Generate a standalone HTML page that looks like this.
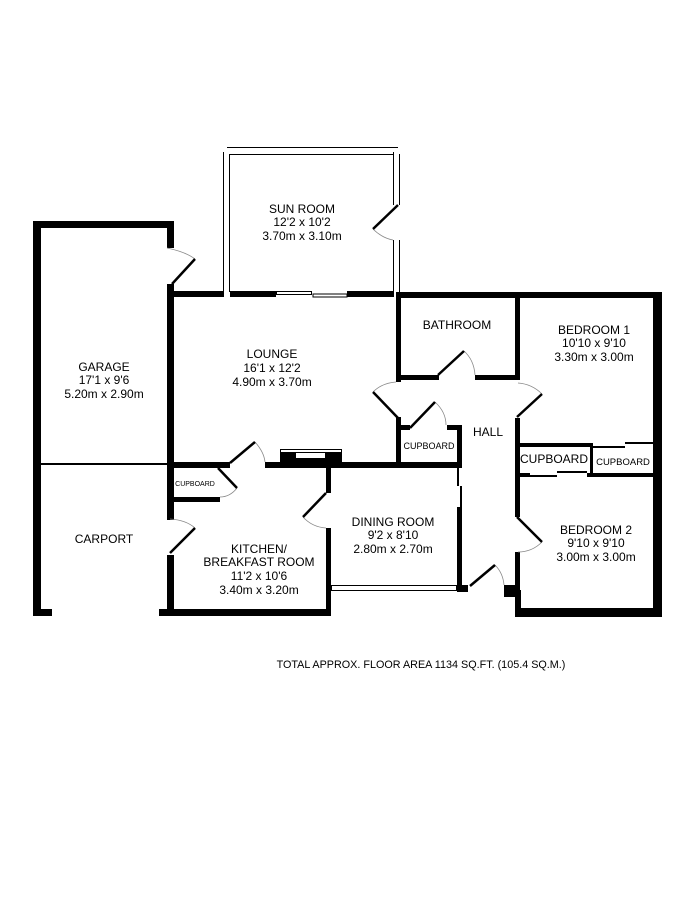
<!DOCTYPE html>
<html><head><style>
html,body{margin:0;padding:0;background:#fff;width:700px;height:900px;overflow:hidden}
svg{display:block}
text{font-family:"Liberation Sans",Arial,sans-serif;fill:#000;text-anchor:middle}
</style></head><body>
<svg width="700" height="900" viewBox="0 0 700 900">
<g fill="#000">
<rect x="33" y="221" width="8" height="395"/>
<rect x="33" y="221" width="141" height="7"/>
<rect x="167" y="221" width="7" height="27"/>
<rect x="167" y="284" width="7" height="236"/>
<rect x="167" y="555" width="7" height="61"/>
<rect x="33" y="609" width="19" height="7"/>
<rect x="159" y="609" width="172" height="7"/>
<rect x="40" y="463" width="127" height="2"/>
<rect x="167" y="291" width="57" height="6"/>
<rect x="230" y="291" width="46" height="6"/>
<rect x="347" y="291" width="47" height="6"/>
<rect x="400" y="292" width="262" height="6"/>
<rect x="653" y="292" width="9" height="325"/>
<rect x="515" y="608" width="147" height="9"/>
<rect x="515" y="590" width="6" height="24"/>
<rect x="504" y="585" width="16" height="12"/>
<rect x="396" y="292" width="5" height="90"/>
<rect x="396" y="375" width="43" height="5"/>
<rect x="475" y="375" width="45" height="5"/>
<rect x="515" y="292" width="5" height="88"/>
<rect x="515" y="418" width="5" height="99"/>
<rect x="515" y="552" width="5" height="60"/>
<rect x="518" y="443" width="75" height="4"/>
<rect x="518" y="473" width="12" height="4"/>
<rect x="587" y="473" width="66" height="4"/>
<rect x="590" y="443" width="3" height="32"/>
<rect x="396" y="417" width="5" height="51"/>
<rect x="396" y="425" width="14" height="5"/>
<rect x="447" y="425" width="15" height="5"/>
<rect x="457" y="425" width="5" height="43"/>
<rect x="167" y="462" width="63" height="6"/>
<rect x="265" y="462" width="197" height="6"/>
<rect x="280" y="453" width="62" height="15"/>
<rect x="167" y="497" width="53" height="5"/>
<rect x="326" y="468" width="5" height="25"/>
<rect x="326" y="528" width="5" height="88"/>
<rect x="457" y="507" width="5" height="85"/>
<rect x="457" y="585" width="11" height="7"/>
</g>
<rect x="296" y="453" width="29" height="5" fill="#fff"/>
<g fill="none" stroke="#000" stroke-width="1">
<path d="M223.5 152V292M229.5 154V292M393.5 152V205M399.5 154V205M393.5 240V292M399.5 240V292M229.5 154.5H393.5M227 147.5H398"/>
<rect x="276.5" y="291.5" width="35" height="3"/>
<rect x="313" y="294" width="34" height="3"/>
<rect x="449.5" y="292.5" width="47" height="4"/>
<rect x="552.5" y="292.5" width="68" height="4"/>
<rect x="200.5" y="610.5" width="98" height="5"/>
<rect x="331.5" y="585.5" width="125" height="5"/>
<rect x="552.5" y="610.5" width="70" height="5"/>
<rect x="280.5" y="449.5" width="61" height="3"/>
</g>
<g fill="none" stroke="#888" stroke-width="0.8">
<path d="M167 248 Q186 252 195 259M373 229 Q382 238 393 240M373 392 Q382 383 396 382M464 351 Q474 360 475 375M542 394 Q532 384 518 383M435 402 Q446 412 446 425M542 542 Q532 552 518 552M495 565 Q503 573 504 585M255 442 Q264 452 265 462M237 488 Q230 497 220 497M195 528 Q186 520 170 519M303 517 Q312 527 326 528"/>
</g>
<g stroke="#000" stroke-width="2.5" fill="none">
<path d="M172 284L195 259M398 205L373 229M398 418L373 392M438 375L464 351M517 417L542 394M410 428L435 402M517 517L542 542M470 586L495 565M230 463L255 442M218 468L237 488M170 553L195 528M326 493L303 517"/>
</g>
<g stroke="#000" stroke-width="2" fill="none">
<path d="M530 476H557M557 472H587M593 447H625M625 443H653M458 468V486M461 486V507"/>
</g>
<g font-size="12">
<text x="302" y="213">SUN ROOM</text><text x="302" y="226">12'2 x 10'2</text><text x="302" y="240">3.70m x 3.10m</text>
<text x="104" y="371">GARAGE</text><text x="104" y="384">17'1 x 9'6</text><text x="104" y="398">5.20m x 2.90m</text>
<text x="272" y="358">LOUNGE</text><text x="272" y="372">16'1 x 12'2</text><text x="272" y="386">4.90m x 3.70m</text>
<text x="457" y="329">BATHROOM</text>
<text x="594" y="334">BEDROOM 1</text><text x="594" y="347">10'10 x 9'10</text><text x="594" y="361">3.30m x 3.00m</text>
<text x="488" y="436">HALL</text>
<text x="596" y="534">BEDROOM 2</text><text x="596" y="547">9'10 x 9'10</text><text x="596" y="561">3.00m x 3.00m</text>
<text x="104" y="543">CARPORT</text>
<text x="393" y="526">DINING ROOM</text><text x="393" y="539">9'2 x 8'10</text><text x="393" y="553">2.80m x 2.70m</text>
<text x="259" y="553">KITCHEN/</text><text x="259" y="566">BREAKFAST ROOM</text><text x="259" y="580">11'2 x 10'6</text><text x="259" y="594">3.40m x 3.20m</text>
<text x="554" y="463">CUPBOARD</text>
</g>
<text x="429" y="449" font-size="9">CUPBOARD</text>
<text x="623" y="465" font-size="9.5">CUPBOARD</text>
<text x="195" y="486" font-size="7">CUPBOARD</text>
<text x="421" y="668" font-size="10.8">TOTAL APPROX. FLOOR AREA 1134 SQ.FT. (105.4 SQ.M.)</text>
</svg>
</body></html>
